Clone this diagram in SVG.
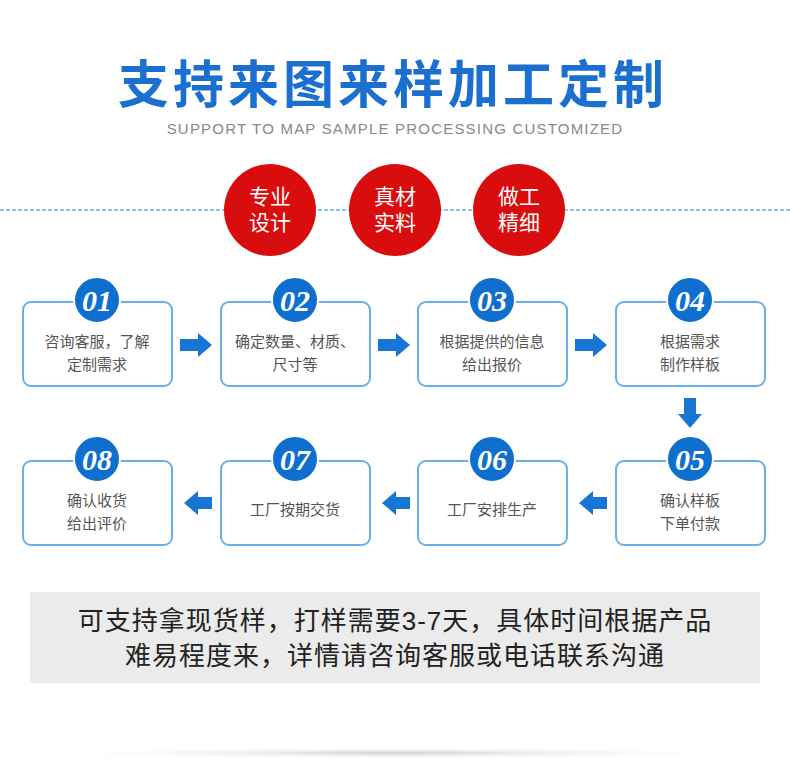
<svg xmlns="http://www.w3.org/2000/svg" width="790" height="784" viewBox="0 0 790 784">
<style>
.cn{font-family:"Liberation Sans","Noto Sans CJK SC",sans-serif}
.box{fill:#fff;stroke:#6aaeea;stroke-width:2}
.num{fill:#0f6fcf;stroke:#fff;stroke-width:2}
.nt{font-family:"Liberation Serif",serif;font-style:italic;font-weight:bold;font-size:30px;fill:#fff;text-anchor:middle}
.bt{font-family:"Liberation Sans","Noto Sans CJK SC",sans-serif;font-size:15px;fill:#555;text-anchor:middle}
.rc{fill:#d90d0d}
.rt{font-family:"Liberation Sans","Noto Sans CJK SC",sans-serif;font-size:21px;fill:#fff;text-anchor:middle}
.ar{fill:#1775d6}
</style>
<defs>
<radialGradient id="sh" cx="0.5" cy="0.5" r="0.5">
<stop offset="0" stop-color="#d0d0d0"/><stop offset="1" stop-color="#fff" stop-opacity="0"/>
</radialGradient>
</defs>
<rect width="790" height="784" fill="#fff"/>
<text x="393" y="103" class="cn" font-size="51" font-weight="bold" fill="#1a6fd0" text-anchor="middle" letter-spacing="4">支持来图来样加工定制</text>
<text x="395" y="134" font-family="Liberation Sans,sans-serif" font-size="15" fill="#888" text-anchor="middle" letter-spacing="1.2">SUPPORT TO MAP SAMPLE PROCESSING CUSTOMIZED</text>
<line x1="0" y1="210" x2="790" y2="210" stroke="#6aaeea" stroke-width="1.5" stroke-dasharray="4,2"/>
<g id="r1"><circle cx="270" cy="210" r="46" class="rc"/><text x="270" y="204" class="rt">专业</text><text x="270" y="230" class="rt">设计</text></g>
<g id="r2"><circle cx="395" cy="210" r="46" class="rc"/><text x="395" y="204" class="rt">真材</text><text x="395" y="230" class="rt">实料</text></g>
<g id="r3"><circle cx="519" cy="210" r="46" class="rc"/><text x="519" y="204" class="rt">做工</text><text x="519" y="230" class="rt">精细</text></g>

<g id="s1"><rect x="23" y="302" width="149" height="84" rx="8" class="box"/><circle cx="97" cy="300" r="23" class="num"/><text x="97" y="311" class="nt">01</text><text x="97" y="347" class="bt">咨询客服，了解</text><text x="97" y="370" class="bt">定制需求</text></g>
<g id="s2"><rect x="221" y="302" width="149" height="84" rx="8" class="box"/><circle cx="295" cy="300" r="23" class="num"/><text x="295" y="311" class="nt">02</text><text x="295" y="347" class="bt">确定数量、材质、</text><text x="295" y="370" class="bt">尺寸等</text></g>
<g id="s3"><rect x="418" y="302" width="149" height="84" rx="8" class="box"/><circle cx="492" cy="300" r="23" class="num"/><text x="492" y="311" class="nt">03</text><text x="492" y="347" class="bt">根据提供的信息</text><text x="492" y="370" class="bt">给出报价</text></g>
<g id="s4"><rect x="616" y="302" width="149" height="84" rx="8" class="box"/><circle cx="690" cy="300" r="23" class="num"/><text x="690" y="311" class="nt">04</text><text x="690" y="347" class="bt">根据需求</text><text x="690" y="370" class="bt">制作样板</text></g>
<g id="s5"><rect x="616" y="461" width="149" height="84" rx="8" class="box"/><circle cx="690" cy="459" r="23" class="num"/><text x="690" y="470" class="nt">05</text><text x="690" y="506" class="bt">确认样板</text><text x="690" y="529" class="bt">下单付款</text></g>
<g id="s6"><rect x="418" y="461" width="149" height="84" rx="8" class="box"/><circle cx="492" cy="459" r="23" class="num"/><text x="492" y="470" class="nt">06</text><text x="492" y="515" class="bt">工厂安排生产</text></g>
<g id="s7"><rect x="221" y="461" width="149" height="84" rx="8" class="box"/><circle cx="295" cy="459" r="23" class="num"/><text x="295" y="470" class="nt">07</text><text x="295" y="515" class="bt">工厂按期交货</text></g>
<g id="s8"><rect x="23" y="461" width="149" height="84" rx="8" class="box"/><circle cx="97" cy="459" r="23" class="num"/><text x="97" y="470" class="nt">08</text><text x="97" y="506" class="bt">确认收货</text><text x="97" y="529" class="bt">给出评价</text></g>

<g id="connectors" class="ar">
<polygon points="180,339 198,339 198,333 212,345 198,357 198,351 180,351"/>
<polygon points="378,339 396,339 396,333 410,345 396,357 396,351 378,351"/>
<polygon points="575,339 593,339 593,333 607,345 593,357 593,351 575,351"/>
<polygon points="684,398 696,398 696,414 702,414 690,428 678,414 684,414"/>
<polygon points="607,497 593,497 593,491 579,503 593,515 593,509 607,509"/>
<polygon points="410,497 396,497 396,491 382,503 396,515 396,509 410,509"/>
<polygon points="212,497 198,497 198,491 184,503 198,515 198,509 212,509"/>
</g>
<rect x="30" y="592" width="730" height="91" fill="#ebebeb"/>
<text x="395" y="630" class="cn" font-size="26" fill="#222" text-anchor="middle" letter-spacing="1">可支持拿现货样，打样需要3-7天，具体时间根据产品</text>
<text x="395" y="665" class="cn" font-size="26" fill="#222" text-anchor="middle" letter-spacing="1">难易程度来，详情请咨询客服或电话联系沟通</text>
<ellipse cx="395" cy="753" rx="370" ry="6" fill="url(#sh)"/>
</svg>
